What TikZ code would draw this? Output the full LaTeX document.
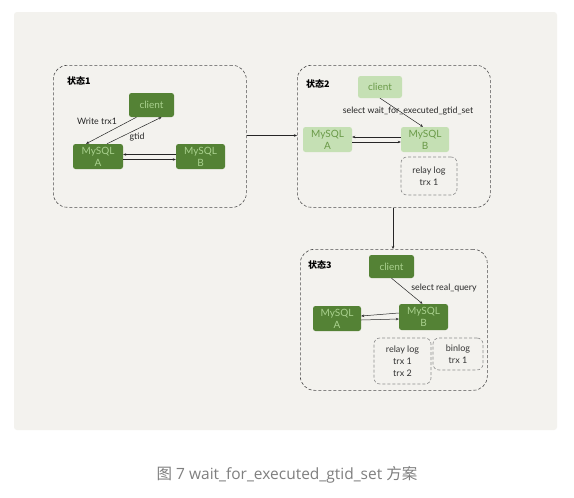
\documentclass[tikz,border=0pt]{standalone}
\usepackage{fontspec}
\setmainfont{Lato}
\newfontfamily\cjk{Noto Sans CJK SC}
\newfontfamily\capfont{Open Sans}
\usetikzlibrary{arrows.meta}
\definecolor{panel}{HTML}{F3F2EE}
\definecolor{dkgreen}{HTML}{548235}
\definecolor{dktext}{HTML}{A9D18E}
\definecolor{ltgreen}{HTML}{C5E0B4}
\definecolor{lttext}{HTML}{6A9A48}
\definecolor{capgray}{HTML}{7F7F7F}
\tikzset{
  statebox/.style={draw=black!70, dashed, dash pattern=on 3pt off 2pt, rounded corners=14pt, line width=0.6pt},
  logbox/.style={draw=black!45, dashed, dash pattern=on 3pt off 2pt, rounded corners=6pt, line width=0.6pt, align=center, font=\fontsize{9}{12}\selectfont, text=black!80},
  dknode/.style={fill=dkgreen, rounded corners=2.5pt, text=dktext, align=center, font=\fontsize{10}{12}\selectfont, inner sep=0pt},
  ltnode/.style={fill=ltgreen, rounded corners=2.5pt, text=lttext, align=center, font=\fontsize{10}{12}\selectfont, inner sep=0pt},
  lbl/.style={font=\fontsize{8.8}{10}\selectfont, text=black!85, inner sep=1pt},
  stlbl/.style={font=\cjk\fontsize{9}{10}\selectfont\bfseries, text=black, inner sep=0pt},
  arr/.style={-{Stealth[length=3pt,width=2.5pt]}, line width=0.5pt, black!85},
}
\begin{document}
\begin{tikzpicture}[x=1pt,y=-1pt]
\useasboundingbox (0,0) rectangle (574,498);
\fill[white] (0,0) rectangle (574,498);
\fill[panel, rounded corners=3pt] (14,12) rectangle (557,430);

% state boxes
\node[statebox, minimum width=193pt, minimum height=142pt, anchor=north west] (s1) at (53,65) {};
\node[statebox, minimum width=193pt, minimum height=142pt, anchor=north west] (s2) at (297,65) {};
\node[statebox, minimum width=187pt, minimum height=141pt, anchor=north west] (s3) at (300,249) {};

\node[stlbl, anchor=west] (t1) at (67,81) {状态1};
\node[stlbl, anchor=west] (t2) at (306,84) {状态2};
\node[stlbl, anchor=west] (t3) at (308,265) {状态3};

% state 1
\node[dknode, minimum width=45pt, minimum height=24pt] (c1) at (151.5,105) {client};
\node[dknode, minimum width=50pt, minimum height=25pt] (a1) at (98,156.5) {MySQL\\A};
\node[dknode, minimum width=49pt, minimum height=25pt] (b1) at (200.5,156.5) {MySQL\\B};
\draw[arr] ([xshift=-15pt]c1.south) -- ([xshift=-12pt]a1.north);
\draw[arr] ([xshift=9pt]a1.north) -- ([xshift=10pt]c1.south);
\node[lbl] (w1) at (97,121) {Write trx1};
\node[lbl] (g1) at (137,137) {gtid};
\draw[arr] ([yshift=-3pt]a1.east) -- ([yshift=-3pt]b1.west);
\draw[arr] ([yshift=2pt]b1.west) -- ([yshift=2pt]a1.east);

% state 2
\node[ltnode, minimum width=44pt, minimum height=22pt] (c2) at (380,87) {client};
\node[ltnode, minimum width=49pt, minimum height=25pt] (a2) at (327.5,139.5) {MySQL\\A};
\node[ltnode, minimum width=48pt, minimum height=25pt] (b2) at (425,139.5) {MySQL\\B};
\node[logbox, minimum width=56pt, minimum height=38pt] (r2) at (429,176) {relay log\\trx 1};
\draw[arr] (c2.south) -- ([xshift=-2pt]b2.north);
\node[lbl] (q2) at (408,111) {select wait\_for\_executed\_gtid\_set};
\draw[arr] ([yshift=-2.5pt]a2.east) -- ([yshift=-2.5pt]b2.west);
\draw[arr] ([yshift=2.5pt]b2.west) -- ([yshift=2.5pt]a2.east);

% state 3
\node[dknode, minimum width=45pt, minimum height=23pt] (c3) at (391.5,266.5) {client};
\node[dknode, minimum width=48pt, minimum height=25pt] (a3) at (337,318.5) {MySQL\\A};
\node[dknode, minimum width=49pt, minimum height=26pt] (b3) at (423.5,317) {MySQL\\B};
\node[logbox, minimum width=57pt, minimum height=46pt] (r3) at (402.5,361) {relay log\\trx 1\\trx 2};
\node[logbox, minimum width=50pt, minimum height=32pt] (bl3) at (458,354) {binlog\\trx 1};
\draw[arr] (c3.south) -- ([xshift=-1pt]b3.north);
\node[lbl] (q3) at (444,288) {select real\_query};
\draw[arr] ([yshift=-1.5pt]a3.east) -- ([yshift=-2pt]b3.west);
\draw[arr] ([yshift=4pt]b3.west) -- ([yshift=2.5pt]a3.east);

% transitions
\draw[arr] (s1.east |- 0,135.5) -- (s2.west |- 0,135.5);
\draw[arr] (s2.south -| 393,0) -- (s3.north -| 393,0);

% caption
\node[font=\capfont\fontsize{15.5}{17}\selectfont, text=capgray] (cap) at (287,475) {{\cjk 图} 7 wait\_for\_executed\_gtid\_set {\cjk 方案}};
\end{tikzpicture}
\end{document}
